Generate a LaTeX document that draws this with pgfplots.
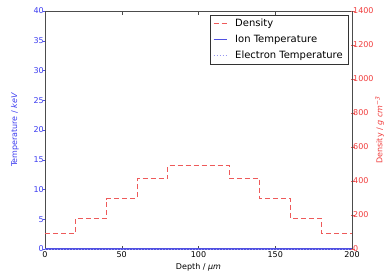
\documentclass[border=0pt]{standalone}
\usepackage{pgfplots}
\pgfplotsset{compat=1.18}
\usepackage{pgfplotstable}
\usepackage{fontspec}
\setmainfont{DejaVu Sans}
\newfontfamily\bluefont[Color=3C3CF0]{DejaVu Sans}
\newfontfamily\redfont[Color=F03C3C]{DejaVu Sans}

\definecolor{dred}{RGB}{238,90,90}
\definecolor{iblue}{RGB}{80,80,225}
\definecolor{eblue}{RGB}{150,150,240}

\pgfplotstableread{
x d
0 93
20 93
20 182
40 182
40 297
60 297
60 413
80 413
80 489
120 489
120 413
140 413
140 297
160 297
160 182
180 182
180 93
200 93
}\dens

\pgfplotstableread{
x t
0 0
200 0
}\ion

\pgfplotstableread{
x t
0 0
200 0
}\ele

\begin{document}
\begin{tikzpicture}
\useasboundingbox (-45pt,-27pt) rectangle (340pt,249pt);
\begin{axis}[
  scale only axis, width=307pt, height=238pt,
  at={(0,0)}, anchor=south west,
  xmin=0, xmax=200, ymin=0, ymax=40,
  xtick={0,50,...,200}, ytick={0,5,...,40},
  xtick pos=both, xticklabel pos=lower,
  ytick pos=left,
  tick align=inside, major tick length=3.5pt,
  y tick style={xshift=-2.5pt, iblue},
  x tick style={black!70},
  axis line style={black!70, line width=0.5pt},
  /pgf/number format/assume math mode=true,
  /pgf/number format/1000 sep={},
  tick label style={font=\fontsize{8}{9}\selectfont},
  yticklabel style={font=\bluefont\fontsize{8}{9}\selectfont, inner sep=1pt},
  xticklabel style={inner sep=1pt, yshift=-1pt},
  label style={font=\fontsize{8}{9}\selectfont},
  xlabel={Depth / \textit{μm}},
  ylabel={Temperature / \textit{keV}},
  ylabel style={font=\bluefont\fontsize{8}{9}\selectfont, at={(axis description cs:-0.098,0.5)}, anchor=center},
  xlabel style={at={(axis description cs:0.5,-0.076)}, anchor=center},
  clip=false,
]
\addplot[draw=iblue, color=iblue, line width=1.3pt] table[x=x,y=t] {\ion};
\addplot[draw=eblue, color=eblue, dash pattern=on 1pt off 2pt, line width=1pt] table[x=x,y=t] {\ele};
\end{axis}
\begin{axis}[
  scale only axis, width=307pt, height=238pt,
  at={(0,0)}, anchor=south west,
  xmin=0, xmax=200, ymin=0, ymax=1400,
  axis x line=none,
  axis y line*=right,
  ytick={0,200,...,1400},
  tick align=inside, major tick length=3.5pt,
  y tick style={xshift=2.5pt, dred},
  axis line style={black!70, line width=0.5pt},
  /pgf/number format/assume math mode=true,
  /pgf/number format/1000 sep={},
  tick label style={font=\fontsize{8}{9}\selectfont},
  yticklabel style={font=\redfont\fontsize{8}{9}\selectfont, inner sep=1pt},
  label style={font=\fontsize{8}{9}\selectfont},
  ylabel={Density / \textit{g cm}\textsuperscript{\textit{−3}}},
  ylabel style={font=\redfont\fontsize{8}{9}\selectfont, at={(axis description cs:1.09,0.5)}, anchor=center},
  legend style={at={(axis description cs:0.987,0.983)}, anchor=north east,
    draw=black!80, line width=0.5pt, font=\fontsize{10}{12}\selectfont,
    inner xsep=3pt, inner ysep=2pt, row sep=3pt},
  legend cell align=left,
  legend image code/.code={\draw[#1] (0pt,0pt) -- (13pt,0pt); \path (19pt,0pt);},
]
\addplot[draw=dred, color=dred, dash pattern=on 5pt off 3pt, line width=0.9pt] table[x=x,y=d] {\dens};
\addlegendentry{Density}
\addlegendimage{draw=iblue, color=iblue, line width=1pt}
\addlegendentry{Ion Temperature}
\addlegendimage{draw=eblue, color=eblue, dash pattern=on 1pt off 2pt, line width=1pt}
\addlegendentry{Electron Temperature}
\end{axis}
\end{tikzpicture}
\end{document}
